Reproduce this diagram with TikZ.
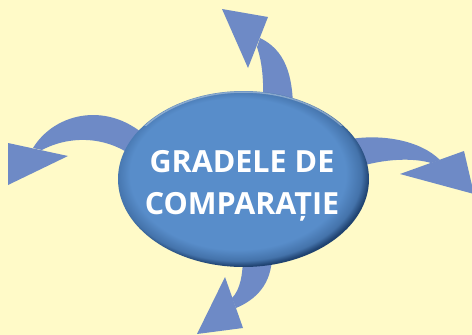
\documentclass[tikz,border=0pt]{standalone}
\usepackage{fontspec}
\setmainfont{Open Sans}
\usetikzlibrary{shapes.geometric}

\definecolor{paper}{HTML}{FFFAC8}
\definecolor{arrowblue}{HTML}{6E8AC6}
\definecolor{ovalblue}{HTML}{588DCA}
\definecolor{ovaldark}{HTML}{1F4270}
\pgfdeclareradialshading{ovalrim}{\pgfpoint{-2bp}{2.5bp}}{%
  color(0bp)=(ovalblue); color(21.5bp)=(ovalblue);
  color(24.5bp)=(ovalblue!65!ovaldark); color(26bp)=(ovaldark);
  color(50bp)=(ovaldark)}

\begin{document}
\begin{tikzpicture}[x=1pt, y=-1pt,
    blockarr/.style={fill=arrowblue, draw=none},
    oval/.style={ellipse, shading=ovalrim, minimum width=251pt,
      minimum height=176pt, inner sep=0pt},
    title/.style={text=white, align=center, inner sep=0pt,
      font=\fontsize{30.5}{42}\selectfont\bfseries},
  ]
    \fill[paper] (0,0) rectangle (472,335);
    \useasboundingbox (0,0) rectangle (472,335);

    % arrow heads
    \coordinate (uptip) at (222,9);
    \coordinate (lefttip) at (8,185);
    \coordinate (righttip) at (474,194);
    \coordinate (downtip) at (197,334);

    % up
    \fill[blockarr] (257,47) .. controls (262,62) and (264,78) .. (263,110)
      -- (293,110) .. controls (293,75) and (285,50) .. (260,38) -- cycle;
    \fill[blockarr] (268,17) -- (uptip) -- (248,68) -- cycle;

    % left
    \fill[blockarr] (33,148) .. controls (55,112) and (110,100) .. (150,140)
      -- (140,162) .. controls (110,135) and (70,135) .. (42,150) -- cycle;
    \fill[blockarr] (8,143) -- (lefttip) -- (68,156) -- cycle;

    % right
    \fill[blockarr] (345,140) .. controls (380,133) and (420,140) .. (440,160)
      -- (431,163) .. controls (415,158) and (385,158) .. (355,168) -- cycle;
    \fill[blockarr] (464,151) -- (righttip) -- (400,174) -- cycle;

    % down
    \fill[blockarr] (272,255) .. controls (272,285) and (255,300) .. (236,308)
      -- (232,298) .. controls (240,290) and (243,275) .. (243,255) -- cycle;
    \fill[blockarr] (225,277) -- (downtip) -- (243,328) -- cycle;

    \node[oval] (hub) at (243.5,179) {};
    \begin{scope}
      \clip (0,0) rectangle (472,125);
      \draw[white, opacity=.35, line width=1.5pt] (hub.center)
        ellipse [x radius=124pt, y radius=87pt];
    \end{scope}
    \node[title, anchor=north] (hubtext) at (242,150)
      {GRADELE DE\\COMPARAȚIE};
\end{tikzpicture}
\end{document}
